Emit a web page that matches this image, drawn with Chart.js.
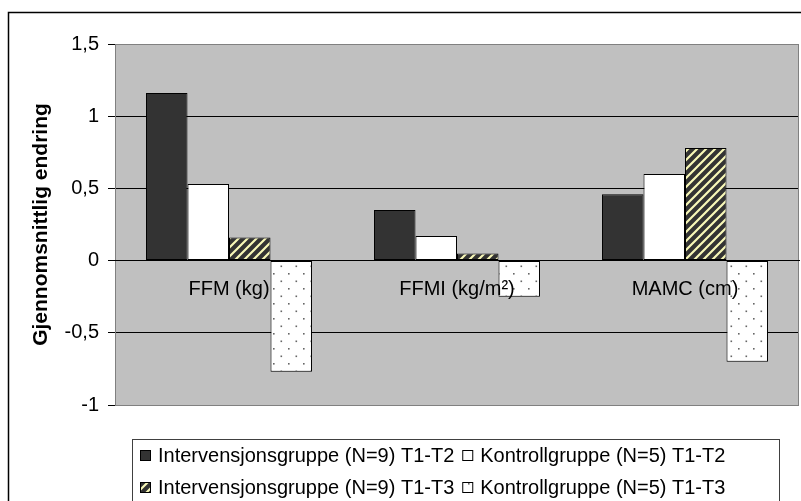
<!DOCTYPE html>
<html><head><meta charset="utf-8">
<script src="https://cdn.jsdelivr.net/npm/chart.js@4.4.0/dist/chart.umd.min.js"></script>
<style>html,body{margin:0;padding:0;background:#fff;} canvas{display:block;}</style>
</head><body>
<canvas id="c" width="801" height="501"></canvas>
<script>
const categories = ['FFM (kg)', 'FFMI (kg/m²)', 'MAMC (cm)'];
const seriesNames = ['Intervensjonsgruppe (N=9) T1-T2', 'Kontrollgruppe (N=5) T1-T2', 'Intervensjonsgruppe (N=9) T1-T3', 'Kontrollgruppe (N=5) T1-T3'];
const intervT1T2 = [1.16, 0.35, 0.46];
const kontrollT1T2 = [0.53, 0.17, 0.60];
const intervT1T3 = [0.16, 0.05, 0.78];
const kontrollT1T3 = [-0.77, -0.25, -0.70];
const yTickValues = [-1, -0.5, 0, 0.5, 1, 1.5];
const yTickLabels = ['-1', '-0,5', '0', '0,5', '1', '1,5'];
const yTitle = 'Gjennomsnittlig endring';

const FONT = '"Liberation Sans", Arial, sans-serif';
Chart.defaults.font.family = FONT;
Chart.defaults.color = '#000';

const canvas = document.getElementById('c');
const ctx = canvas.getContext('2d');

function stripePattern() {
  const s = 9;
  const c = document.createElement('canvas'); c.width = s; c.height = s;
  const g = c.getContext('2d');
  g.fillStyle = '#333333'; g.fillRect(0, 0, s, s);
  g.strokeStyle = '#F8F8B8'; g.lineWidth = 2.2;
  g.beginPath();
  g.moveTo(-2, s + 2); g.lineTo(s + 2, -2);
  g.moveTo(-2, 2); g.lineTo(2, -2);
  g.moveTo(s - 2, s + 2); g.lineTo(s + 2, s - 2);
  g.stroke();
  return ctx.createPattern(c, 'repeat');
}
function dotPattern() {
  const s = 15;
  const c = document.createElement('canvas'); c.width = s; c.height = s;
  const g = c.getContext('2d');
  g.fillStyle = '#ffffff'; g.fillRect(0, 0, s, s);
  g.fillStyle = '#666666';
  g.fillRect(3, 3, 1.6, 1.6);
  g.fillRect(10.5, 10.5, 1.6, 1.6);
  return ctx.createPattern(c, 'repeat');
}

const frame = {
  id: 'frame',
  beforeDraw(chart) {
    const c = chart.ctx, a = chart.chartArea;
    c.save();
    c.fillStyle = '#fff'; c.fillRect(0, 0, chart.width, chart.height);
    c.strokeStyle = '#000'; c.lineWidth = 1.5;
    c.strokeRect(8.5, 12.5, 900, 600);
    c.fillStyle = '#C0C0C0';
    c.fillRect(a.left, a.top, a.right - a.left, a.bottom - a.top);
    c.restore();
  },
  beforeDatasetsDraw(chart) {
    const c = chart.ctx, a = chart.chartArea;
    c.save();
    c.strokeStyle = '#808080'; c.lineWidth = 1;
    c.strokeRect(a.left + 0.5, a.top + 0.5, a.right - a.left - 1, a.bottom - a.top);
    c.restore();
  }
};

const boxLegend = {
  id: 'boxLegend',
  afterDraw(chart) {
    const c = chart.ctx;
    c.save();
    c.strokeStyle = '#404040'; c.lineWidth = 1;
    c.strokeRect(132.5, 439.5, 647, 100);
    c.font = '20px ' + FONT;
    c.textBaseline = 'middle';
    const ds = chart.data.datasets;
    const w0 = Math.max(c.measureText(ds[0].label).width, c.measureText(ds[2].label).width);
    const colX = [140, 140 + 11 + 7 + w0 + 8];
    const rowY = [456, 488];
    ds.forEach((d, i) => {
      const x = colX[i % 2], y = rowY[Math.floor(i / 2)];
      c.fillStyle = d.backgroundColor;
      c.fillRect(x, y - 6, 11, 11);
      c.strokeStyle = '#000'; c.lineWidth = 1;
      c.strokeRect(x + 0.5, y - 5.5, 10, 10);
      c.fillStyle = '#000';
      c.fillText(d.label, x + 18, y);
    });
    c.restore();
  }
};

const fills = ['#333333', '#ffffff', stripePattern(), dotPattern()];
const values = [intervT1T2, kontrollT1T2, intervT1T3, kontrollT1T3];

new Chart(canvas, {
  type: 'bar',
  data: {
    labels: categories,
    datasets: values.map((v, i) => ({
      label: seriesNames[i],
      data: v,
      backgroundColor: fills[i],
      borderColor: '#000',
      borderWidth: 1,
      borderSkipped: false,
      categoryPercentage: 0.728,
      barPercentage: 1
    }))
  },
  options: {
    responsive: false,
    animation: false,
    devicePixelRatio: 1,
    layout: { padding: { left: 0, top: 44, right: 2, bottom: 96 } },
    plugins: { legend: { display: false }, tooltip: { enabled: false } },
    scales: {
      x: {
        position: { y: 0 },
        grid: { display: false, drawTicks: false },
        border: { display: true, color: '#000', width: 1, z: 1 },
        ticks: { font: { size: 20 }, padding: 17, z: 1, maxRotation: 0, autoSkip: false }
      },
      y: {
        min: -1, max: 1.5,
        afterBuildTicks: (scale) => { scale.ticks = yTickValues.map(v => ({ value: v })); },
        afterFit: (scale) => { scale.width = 115; },
        grid: {
          color: (c) => (c.tick && (c.tick.value === 1.5 || c.tick.value === -1)) ? '#808080' : '#000',
          tickColor: '#000',
          tickLength: 7,
          lineWidth: 1
        },
        border: { display: false },
        ticks: {
          font: { size: 20 },
          padding: 9,
          callback: (v) => yTickLabels[yTickValues.indexOf(v)]
        },
        title: {
          display: true,
          text: yTitle,
          font: { size: 21, weight: 'bold' },
          padding: { top: 29, bottom: 0 }
        }
      }
    }
  },
  plugins: [frame, boxLegend]
});
</script>
</body></html>
